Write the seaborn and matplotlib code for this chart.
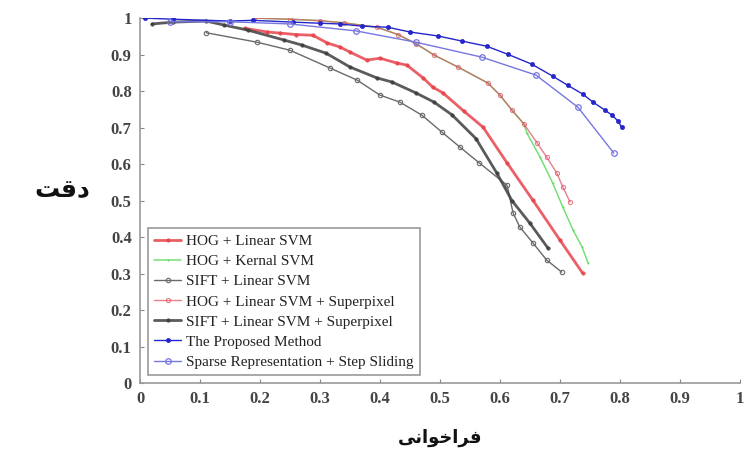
import matplotlib
matplotlib.use("Agg")
import matplotlib.pyplot as plt
import seaborn as sns
import pandas as pd
from matplotlib.ft2font import FT2Font
from matplotlib import font_manager

# ---------------- data ----------------
hog_lin_x = [0.175, 0.212, 0.233, 0.26, 0.288, 0.312, 0.333, 0.35, 0.378, 0.40, 0.428,
             0.445, 0.472, 0.488, 0.505, 0.54, 0.572, 0.612, 0.655, 0.70, 0.738]
hog_lin_y = [0.972, 0.962, 0.959, 0.955, 0.953, 0.932, 0.921, 0.907, 0.885, 0.890, 0.877,
             0.871, 0.836, 0.811, 0.795, 0.745, 0.701, 0.603, 0.501, 0.392, 0.301]

shared_x = [0.19, 0.25, 0.30, 0.34, 0.395, 0.43, 0.46, 0.49, 0.53, 0.58, 0.60, 0.62, 0.64]
shared_y = [1.0, 0.997, 0.993, 0.987, 0.975, 0.955, 0.93, 0.899, 0.866, 0.822, 0.789, 0.748, 0.71]

hog_ker_x = shared_x + [0.645, 0.667, 0.688, 0.705, 0.722, 0.737, 0.747]
hog_ker_y = shared_y + [0.685, 0.619, 0.548, 0.482, 0.419, 0.373, 0.329]

hog_sp_x = shared_x + [0.662, 0.678, 0.695, 0.705, 0.717]
hog_sp_y = shared_y + [0.658, 0.619, 0.575, 0.537, 0.496]

sift_lin_x = [0.11, 0.195, 0.25, 0.317, 0.362, 0.40, 0.433, 0.47, 0.503, 0.533, 0.565,
              0.612, 0.622, 0.633, 0.655, 0.678, 0.703]
sift_lin_y = [0.96, 0.934, 0.912, 0.863, 0.830, 0.789, 0.77, 0.734, 0.688, 0.647, 0.604,
              0.542, 0.466, 0.428, 0.384, 0.337, 0.304]

sift_sp_x = [0.02, 0.055, 0.11, 0.14, 0.18, 0.24, 0.27, 0.31, 0.35, 0.395, 0.42, 0.46,
             0.49, 0.52, 0.56, 0.595, 0.62, 0.65, 0.68]
sift_sp_y = [0.984, 0.989, 0.992, 0.981, 0.967, 0.94, 0.926, 0.904, 0.866, 0.836, 0.825,
             0.795, 0.77, 0.735, 0.67, 0.575, 0.50, 0.438, 0.37]

prop_x = [0.008, 0.055, 0.15, 0.188, 0.255, 0.30, 0.333, 0.37, 0.413, 0.45, 0.497, 0.537,
          0.578, 0.613, 0.653, 0.688, 0.713, 0.738, 0.755, 0.775, 0.787, 0.797, 0.803]
prop_y = [1.0, 0.997, 0.992, 0.994, 0.989, 0.986, 0.984, 0.978, 0.975, 0.962, 0.951, 0.937,
          0.923, 0.901, 0.874, 0.841, 0.816, 0.792, 0.770, 0.748, 0.734, 0.718, 0.701]

sparse_x = [0.05, 0.15, 0.25, 0.36, 0.46, 0.57, 0.66, 0.73, 0.79]
sparse_y = [0.99, 0.99, 0.984, 0.965, 0.934, 0.893, 0.844, 0.756, 0.630]

labels = ["HOG + Linear SVM", "HOG + Kernal SVM", "SIFT + Linear SVM",
          "HOG + Linear SVM + Superpixel", "SIFT + Linear SVM + Superpixel",
          "The Proposed Method", "Sparse Representation + Step Sliding"]

ticks = [0, 0.1, 0.2, 0.3, 0.4, 0.5, 0.6, 0.7, 0.8, 0.9, 1]
tick_labels = ["0", "0.1", "0.2", "0.3", "0.4", "0.5", "0.6", "0.7", "0.8", "0.9", "1"]

# ---------------- styling ----------------
sns.set_theme(style="white")
plt.rcParams["font.family"] = ["Liberation Serif", "DejaVu Serif"]

series = [
    (hog_lin_x, hog_lin_y, dict(color="#e8434c", lw=2.0, marker="o", ms=2.5, mfc="#e8434c", alpha=0.85)),
    (hog_ker_x, hog_ker_y, dict(color="#66dd66", lw=1.1, marker=".", ms=2, alpha=0.9)),
    (sift_lin_x, sift_lin_y, dict(color="#6a6a6a", lw=1.0, marker="o", ms=3.2, mfc="none", mew=0.8)),
    (hog_sp_x, hog_sp_y, dict(color="#dd5566", lw=1.0, marker="o", ms=3.0, mfc="none", mew=0.8, alpha=0.75)),
    (sift_sp_x, sift_sp_y, dict(color="#3e3e3e", lw=2.0, marker="o", ms=2.5, alpha=0.85)),
    (prop_x, prop_y, dict(color="#2525cc", lw=1.0, marker="o", ms=3.0)),
    (sparse_x, sparse_y, dict(color="#7676e0", lw=1.0, marker="o", ms=4.0, mfc="none", mew=0.9)),
]

fig = plt.figure(figsize=(7.45, 4.53), dpi=100)
ax = fig.add_axes([0.188, 0.1545, 0.805, 0.8055])

for (xs, ys, st), lab in zip(series, labels):
    df = pd.DataFrame({"x": xs, "y": ys})
    sns.lineplot(data=df, x="x", y="y", ax=ax, sort=False, estimator=None,
                 color=st["color"], linewidth=st["lw"], marker=st["marker"],
                 markersize=st["ms"], markerfacecolor=st.get("mfc", st["color"]),
                 markeredgecolor=st["color"], markeredgewidth=st.get("mew", 0.5),
                 alpha=st.get("alpha", 1.0), label=lab)

ax.set_xlabel("")
ax.set_ylabel("")
ax.set_xlim(0, 1)
ax.set_ylim(0, 1)
ax.set_xticks(ticks)
ax.set_xticklabels(tick_labels)
ax.set_yticks(ticks)
ax.set_yticklabels(tick_labels)
for t in ax.get_xticklabels() + ax.get_yticklabels():
    t.set_fontsize(12)
    t.set_fontweight("bold")
    t.set_color("#444444")
ax.tick_params(axis="both", direction="in", length=3, width=0.8, color="#888888",
               bottom=True, left=True, pad=6)

for s in ["top", "right"]:
    ax.spines[s].set_visible(False)
for s in ["left", "bottom"]:
    ax.spines[s].set_color("#999999")
    ax.spines[s].set_linewidth(1.2)

leg = ax.legend(loc="lower left", bbox_to_anchor=(0.013, 0.022), borderaxespad=0,
                fontsize=11, frameon=True, fancybox=False, edgecolor="#999999",
                framealpha=1, handlelength=1.8, handletextpad=0.3, borderpad=0.4,
                labelspacing=0.42)
leg.get_frame().set_linewidth(1.2)
for t in leg.get_texts():
    t.set_color("#222222")


# Arabic labels (shaped presentation forms in visual order; matplotlib has no shaping)
def has_glyphs(text, family="DejaVu Sans"):
    path = font_manager.findfont(font_manager.FontProperties(family=family, weight="bold"))
    f = FT2Font(path)
    return all(f.get_char_index(ord(c)) != 0 for c in text)

ylab = "\uFE96\uFED7\uFEA9"  # دقت
xlab = "\uFBFD\uFEE7\uFE8D\uFEEE\uFEA7\uFE8D\uFEAE\uFED3"  # فراخوانی
if not has_glyphs(xlab):
    xlab = "\uFEF0\uFEE7\uFE8D\uFEEE\uFEA7\uFE8D\uFEAE\uFED3"

fig.text(62 / 745, 1 - 190 / 453, ylab, family=["DejaVu Sans"], fontsize=18,
         fontweight="bold", ha="center", va="center", color="#111111")
fig.text(440 / 745, 1 - 438 / 453, xlab, family=["DejaVu Sans"], fontsize=13,
         fontweight="bold", ha="center", va="center", color="#111111")

fig.savefig("out.png", dpi=100)
